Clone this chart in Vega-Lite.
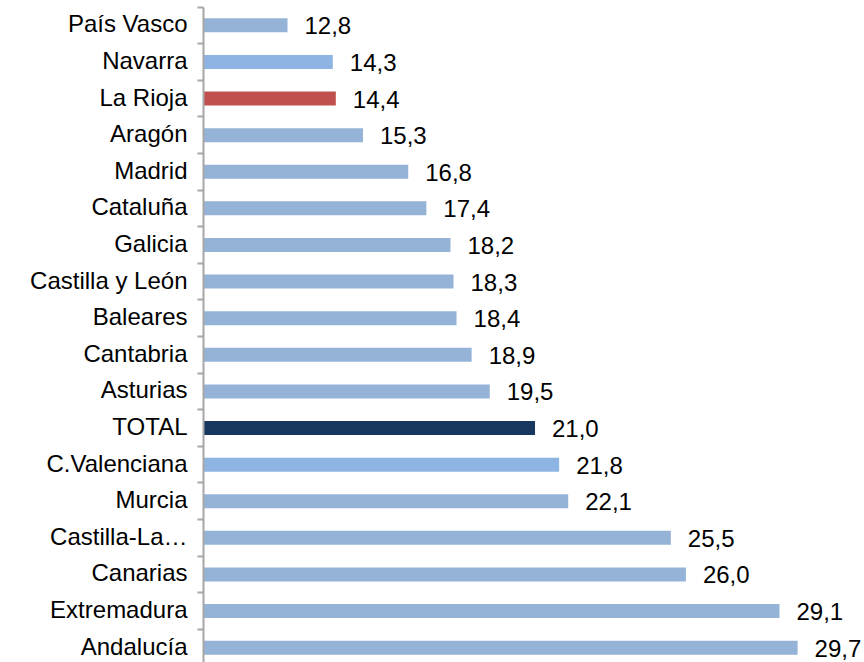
{
  "$schema": "https://vega.github.io/schema/vega-lite/v6.json",
  "autosize": "none",
  "width": 661,
  "height": 659,
  "padding": {"left": 203, "top": 7, "right": 0, "bottom": 0},
  "background": "white",
  "config": {
    "view": {"stroke": null},
    "font": "Liberation Sans",
    "locale": {"number": {"decimal": ",", "thousands": ".", "grouping": [3], "currency": ["", " €"]}}
  },
  "data": {
    "values": [
      {"region": "País Vasco", "valor": 12.8, "grupo": "normal"},
      {"region": "Navarra", "valor": 14.3, "grupo": "claro"},
      {"region": "La Rioja", "valor": 14.4, "grupo": "rioja"},
      {"region": "Aragón", "valor": 15.3, "grupo": "normal"},
      {"region": "Madrid", "valor": 16.8, "grupo": "normal"},
      {"region": "Cataluña", "valor": 17.4, "grupo": "normal"},
      {"region": "Galicia", "valor": 18.2, "grupo": "normal"},
      {"region": "Castilla y León", "valor": 18.3, "grupo": "normal"},
      {"region": "Baleares", "valor": 18.4, "grupo": "normal"},
      {"region": "Cantabria", "valor": 18.9, "grupo": "normal"},
      {"region": "Asturias", "valor": 19.5, "grupo": "normal"},
      {"region": "TOTAL", "valor": 21.0, "grupo": "total"},
      {"region": "C.Valenciana", "valor": 21.8, "grupo": "claro"},
      {"region": "Murcia", "valor": 22.1, "grupo": "normal"},
      {"region": "Castilla-La Mancha", "valor": 25.5, "grupo": "normal"},
      {"region": "Canarias", "valor": 26.0, "grupo": "normal"},
      {"region": "Extremadura", "valor": 29.1, "grupo": "normal"},
      {"region": "Andalucía", "valor": 29.7, "grupo": "normal"}
    ]
  },
  "encoding": {
    "y": {
      "field": "region",
      "type": "nominal",
      "sort": null,
      "scale": {"paddingInner": 0, "paddingOuter": 0},
      "axis": {
        "title": null,
        "bandPosition": 0,
        "labelFontSize": 24,
        "labelColor": "#000000",
        "labelPadding": 10,
        "labelLimit": 300,
        "labelBound": false,
        "tickColor": "#A6A6A6",
        "tickSize": 6,
        "tickWidth": 2,
        "domainColor": "#A6A6A6",
        "domainWidth": 2,
        "zindex": 1,
        "labelExpr": "datum.value == 'Castilla-La Mancha' ? 'Castilla-La…' : datum.value"
      }
    },
    "x": {
      "field": "valor",
      "type": "quantitative",
      "scale": {"domain": [10, 31.9], "zero": false, "nice": false},
      "axis": null
    }
  },
  "layer": [
    {
      "mark": {"type": "bar", "size": 14, "clip": true},
      "encoding": {
        "color": {
          "field": "grupo",
          "type": "nominal",
          "scale": {"domain": ["normal", "claro", "rioja", "total"], "range": ["#95B3D7", "#8DB4E2", "#C0504D", "#17375E"]},
          "legend": null
        }
      }
    },
    {
      "mark": {"type": "text", "align": "left", "baseline": "middle", "dx": 17, "dy": 2, "fontSize": 24, "color": "#000000"},
      "encoding": {
        "text": {"field": "valor", "type": "quantitative", "format": ".1f"}
      }
    }
  ]
}
